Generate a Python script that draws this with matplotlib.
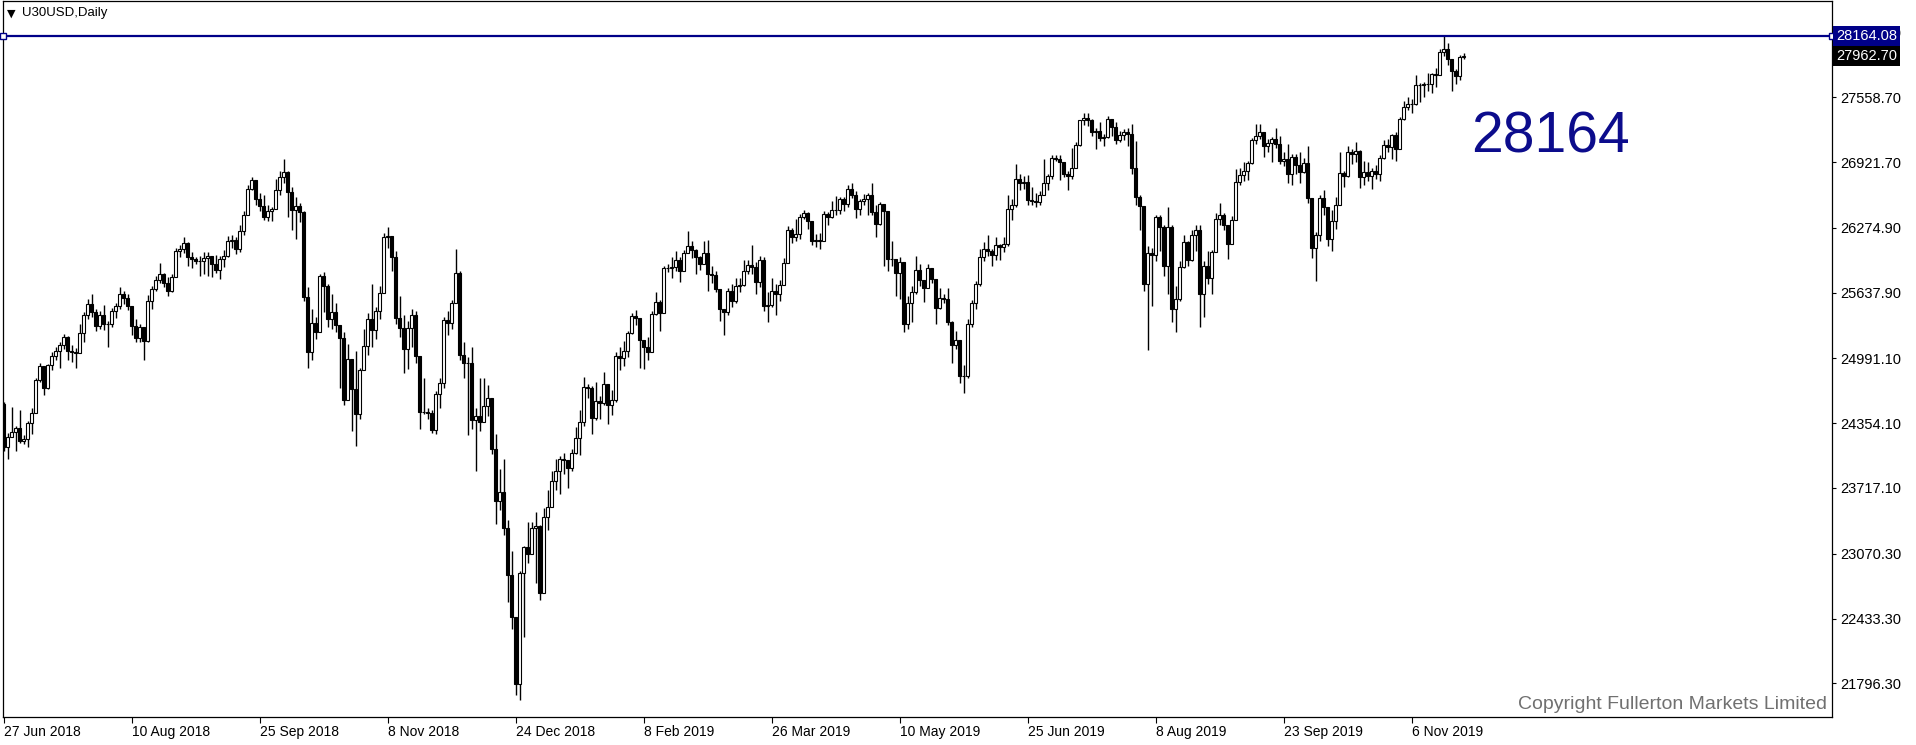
import numpy as np
import pandas as pd
import matplotlib
matplotlib.use("Agg")
import matplotlib.pyplot as plt
import matplotlib.transforms as mtransforms

plt.rcParams['font.family'] = ['Liberation Sans', 'DejaVu Sans']

symbol = "U30USD,Daily"
watermark = "Copyright Fullerton Markets Limited"
level_text = "28164"
level = 28164.08
last_price = 27962.70
first_open = 24540.0
holidays = ["2018-12-25", "2019-01-01", "2019-04-19"]
price_ticks = [21796.30, 22433.30, 23070.30, 23717.10, 24354.10, 24991.10,
               25637.90, 26274.90, 26921.70, 27558.70, 28195.70]

# daily closes (open = previous close, CFD trades round the clock)
closes = [
    # Jun 2018
    24117, 24216, 24271,
    # Jul
    24307, 24174, 24200, 24356, 24456, 24776, 24920, 24700, 24924, 25019, 25064,
    25120, 25199, 25064, 25058, 25044, 25241, 25414, 25527, 25451, 25306, 25415,
    # Aug
    25333, 25326, 25462, 25502, 25628, 25583, 25509, 25313, 25187, 25299, 25162,
    25558, 25669, 25758, 25822, 25733, 25656, 25790, 26049, 26064, 26124, 25986, 25964,
    # Sep
    25950, 25952, 25974, 25995, 25916, 25857, 25971, 25998, 26145, 26154, 26062,
    26246, 26405, 26657, 26743, 26562, 26492, 26385, 26439, 26458,
    # Oct
    26651, 26773, 26828, 26627, 26447, 26486, 26430, 25599, 25052, 25340, 25250,
    25798, 25706, 25379, 25444, 25317, 25191, 24583, 24984, 24689, 24443, 24875, 25116,
    # Nov
    25380, 25271, 25462, 25636, 26180, 26191, 25990, 25388, 25287, 25081, 25289,
    25413, 25018, 24466, 24464, 24450, 24286, 24640, 24749, 25366, 25339, 25538,
    # Dec
    25827, 25027, 24950, 24947, 24389, 24423, 24370, 24527, 24597, 24101, 23592,
    23676, 23324, 22860, 22445, 21792, 22878, 23139, 23063, 23327,
    # Jan 2019
    23346, 22686, 23433, 23531, 23787, 23879, 24001, 23996, 23910, 24065, 24207,
    24370, 24706, 24700, 24404, 24575, 24553, 24737, 24528, 24580, 25014, 24999,
    # Feb
    25064, 25239, 25411, 25390, 25169, 25106, 25053, 25426, 25543, 25439, 25883,
    25880, 25891, 25954, 25850, 26031, 26092, 26057, 25986, 25916,
    # Mar
    26026, 25820, 25807, 25673, 25473, 25450, 25650, 25555, 25702, 25709, 25849,
    25914, 25887, 25745, 25962, 25502, 25516, 25658, 25626, 25717, 25929,
    # Apr
    26258, 26180, 26219, 26385, 26425, 26341, 26150, 26157, 26143, 26412, 26384,
    26452, 26450, 26559, 26511, 26656, 26597, 26462, 26543, 26554, 26593,
    # May
    26430, 26308, 26505, 26438, 25965, 25968, 25829, 25942, 25325, 25532, 25648,
    25863, 25764, 25680, 25877, 25776, 25490, 25586, 25580, 25348, 25127, 25170, 24815,
    # Jun
    24820, 25332, 25540, 25720, 25984, 26062, 26049, 26005, 26107, 26090, 26112,
    26465, 26504, 26753, 26719, 26727, 26548, 26537, 26526, 26600,
    # Jul
    26718, 26787, 26966, 26950, 26922, 26806, 26784, 26860, 27088, 27332, 27359,
    27336, 27220, 27223, 27154, 27172, 27349, 27270, 27141, 27192, 27221, 27198, 26864,
    # Aug
    26583, 26485, 25718, 26030, 26008, 26378, 26287, 25897, 26280, 25479, 25579,
    25886, 26136, 25962, 26203, 26253, 25629, 25898, 25778, 26036, 26363, 26403,
    # Sep
    26300, 26118, 26356, 26728, 26797, 26836, 26910, 27137, 27182, 27220, 27076,
    27111, 27147, 27095, 26935, 26949, 26808, 26970, 26891, 26820, 26917,
    # Oct
    26573, 26079, 26201, 26573, 26478, 26164, 26347, 26497, 26817, 26787, 27024,
    27001, 27026, 26770, 26827, 26788, 26834, 26806, 26958, 27091, 27071, 27186, 27046,
    # Nov
    27347, 27462, 27493, 27492, 27675, 27681, 27691, 27691, 27784, 27782, 28005,
    28036, 27934, 27822, 27767, 27950, 27962.7,
]

highs = [
    24560, 24260, 24510,
    24330, 24480, 24240, 24380, 24500, 24800, 24950, 24780, 24940, 25050, 25100,
    25150, 25230, 25210, 25120, 25090, 25330, 25450, 25580, 25620, 25480, 25460,
    25520, 25360, 25490, 25540, 25690, 25650, 25620, 25500, 25380, 25330, 25290,
    25610, 25700, 25800, 25930, 25830, 25790, 25820, 26080, 26110, 26180, 26140, 26040,
    25990, 26000, 26040, 26040, 26000, 26010, 26000, 26060, 26190, 26200, 26180,
    26300, 26440, 26700, 26770, 26750, 26620, 26600, 26500, 26480,
    26760, 26830, 26950, 26830, 26680, 26580, 26520, 26440, 25690, 25480, 25400,
    25820, 25840, 25720, 25620, 25540, 25300, 25250, 25130, 24980, 25060, 24900, 25280,
    25440, 25720, 25500, 25700, 26220, 26280, 26180, 26050, 25600, 25420, 25360,
    25480, 25460, 25010, 24800, 24500, 24480, 24670, 24800, 25400, 25460, 25570,
    26070, 25850, 25150, 25000, 25100, 24500, 24800, 24800, 24730, 24520, 24250,
    23900, 24000, 23400, 23100, 22450, 22900, 23150, 23380, 23380,
    23480, 23350, 23520, 23700, 23880, 24000, 24030, 24060, 23980, 24100, 24320,
    24480, 24810, 24740, 24720, 24760, 24620, 24860, 24700, 24680, 25050, 25100,
    25160, 25260, 25440, 25470, 25390, 25150, 25200, 25460, 25640, 25570, 25900,
    25920, 25990, 26050, 25990, 26060, 26240, 26150, 26070, 26000,
    26150, 26160, 25900, 25850, 25660, 25460, 25680, 25720, 25780, 25780, 25960,
    25960, 26110, 25940, 26000, 25990, 25640, 25780, 25720, 25760, 25980,
    26290, 26270, 26360, 26410, 26450, 26430, 26330, 26210, 26220, 26440, 26430,
    26540, 26590, 26580, 26580, 26700, 26720, 26640, 26560, 26610, 26620,
    26720, 26500, 26530, 26450, 26400, 26150, 25960, 25990, 25800, 25600, 25700,
    26000, 25920, 25760, 25920, 25880, 25760, 25680, 25620, 25680, 25360, 25260, 25000,
    24930, 25380, 25570, 25750, 26070, 26140, 26200, 26070, 26180, 26120, 26180,
    26600, 26560, 26900, 26800, 26780, 26790, 26680, 26620, 26640,
    26950, 26800, 26990, 26990, 26990, 26910, 26830, 27060, 27120, 27340, 27400,
    27400, 27350, 27260, 27320, 27200, 27370, 27350, 27320, 27230, 27250, 27260, 27300,
    27130, 26600, 26320, 26100, 26080, 26400, 26400, 26300, 26480, 26300, 25700,
    25950, 26200, 26150, 26250, 26300, 26300, 25950, 26050, 26060, 26420, 26520,
    26420, 26300, 26390, 26850, 26860, 26920, 26930, 27160, 27300, 27300, 27190,
    27150, 27170, 27260, 27180, 27020, 27100, 27000, 27000, 27020, 26960,
    27080, 26560, 26230, 26600, 26650, 26480, 26450, 26580, 27020, 26830, 27080,
    27050, 27120, 27040, 26930, 26920, 26860, 26890, 26990, 27140, 27150, 27200, 27220,
    27360, 27520, 27560, 27540, 27780, 27700, 27710, 27800, 27800, 27850, 28030,
    28164, 28090, 27940, 27840, 27970, 27990,
]

lows = [
    24080, 24000, 24220,
    24080, 24160, 24150, 24120, 24250, 24450, 24760, 24630, 24690, 24880, 24980,
    24900, 25080, 24980, 24960, 24900, 25060, 25150, 25380, 25400, 25260, 25280,
    25270, 25100, 25300, 25390, 25480, 25530, 25470, 25220, 25150, 25150, 24980,
    25150, 25480, 25650, 25730, 25690, 25600, 25640, 25790, 25990, 26030, 25900, 25880,
    25920, 25800, 25820, 25800, 25790, 25830, 25770, 25890, 25990, 26080, 26020,
    26040, 26200, 26400, 26650, 26500, 26440, 26350, 26340, 26340,
    26460, 26600, 26720, 26380, 26250, 26170, 26330, 25560, 24900, 24980, 25180,
    25260, 25450, 25300, 25280, 25250, 24700, 24530, 24600, 24280, 24130, 24400, 24880,
    25020, 25100, 25180, 25380, 25650, 26080, 25850, 25330, 25200, 24850, 24890,
    25100, 24950, 24300, 24440, 24400, 24260, 24250, 24500, 24700, 25220, 25280,
    25600, 24980, 24800, 24240, 24300, 23880, 24280, 24450, 24420, 24050, 23360,
    23500, 23250, 22600, 22330, 21680, 21630, 22250, 22980, 23100,
    22780, 22620, 22700, 23300, 23550, 23700, 23660, 23850, 23720, 23880, 24050,
    24040, 24330, 24600, 24250, 24390, 24400, 24530, 24350, 24430, 24560, 24880,
    24920, 25000, 25230, 25320, 24900, 24890, 24980, 25080, 25420, 25260, 25450,
    25840, 25780, 25850, 25740, 25860, 26040, 25980, 25820, 25860,
    25920, 25650, 25730, 25640, 25360, 25220, 25420, 25500, 25540, 25640, 25700,
    25820, 25820, 25620, 25690, 25460, 25350, 25500, 25420, 25560, 25730,
    25950, 26130, 26150, 26170, 26360, 26260, 26110, 26090, 26070, 26150, 26300,
    26370, 26400, 26410, 26440, 26480, 26570, 26370, 26400, 26500, 26400,
    26400, 26180, 26300, 25900, 25850, 25900, 25600, 25580, 25250, 25280, 25350,
    25620, 25700, 25550, 25700, 25730, 25330, 25480, 25540, 25320, 24950, 25080, 24750,
    24650, 24800, 25300, 25480, 25700, 25950, 26000, 25900, 25960, 25960, 26040,
    26100, 26350, 26480, 26650, 26660, 26500, 26500, 26480, 26500,
    26650, 26650, 26760, 26930, 26750, 26770, 26650, 26760, 26870, 27080, 27290,
    27280, 27180, 27050, 27130, 27080, 27160, 27180, 27100, 27120, 27140, 27080, 26800,
    26500, 26250, 25650, 25070, 25510, 25950, 26050, 25800, 25620, 25350, 25250,
    25560, 25880, 25900, 25950, 26050, 25300, 25400, 25720, 25620, 26050, 26300,
    26250, 25970, 26120, 26380, 26700, 26740, 26750, 26900, 27100, 27150, 26970,
    27020, 26920, 27060, 26900, 26880, 26720, 26700, 26800, 26720, 26810,
    26520, 25980, 25750, 26150, 26400, 26100, 26050, 26260, 26500, 26680, 26770,
    26900, 26920, 26670, 26700, 26740, 26660, 26760, 26740, 26950, 27020, 26950, 26930,
    27050, 27340, 27430, 27400, 27480, 27510, 27560, 27620, 27600, 27660, 27790,
    27960, 27880, 27620, 27690, 27730, 27940,
]

dates = pd.bdate_range("2018-06-27", "2019-11-25").drop(pd.to_datetime(holidays))
n = min(len(dates), len(closes), len(highs), len(lows))
if not (len(dates) == len(closes) == len(highs) == len(lows)):
    print("length mismatch", len(dates), len(closes), len(highs), len(lows))
dates = dates[:n]
c = np.array(closes[:n], dtype=float)
h = np.array(highs[:n], dtype=float)
l = np.array(lows[:n], dtype=float)
o = np.concatenate([[first_open], c[:-1]])
x = np.arange(n)

fig = plt.figure(figsize=(19.16, 7.45), dpi=100)
ax = fig.add_axes([0.0014, 0.0376, 0.9548, 0.961])

# candles
up = c >= o
ax.vlines(x, np.minimum(l, np.minimum(o, c)), np.maximum(h, np.maximum(o, c)),
          color='black', lw=1.0, zorder=2)
ax.bar(x, np.abs(c - o), bottom=np.minimum(o, c), width=0.62,
       color=np.where(up, 'white', 'black'), edgecolor='black', lw=0.8, zorder=3)

ax.set_xlim(-0.225, 457.1)
ax.set_ylim(21465, 28505)

# price level line
navy = '#000088'
ax.plot([-0.225, 457.1], [level, level], color=navy, lw=1.6, marker='s', ms=4,
        mfc='white', mec=navy, mew=1.0, clip_on=False, zorder=4)

# axes styling
for s in ax.spines.values():
    s.set_linewidth(0.9)
    s.set_color('black')
ax.yaxis.tick_right()
ax.set_yticks(price_ticks)
ax.set_yticklabels([f"{v:.2f}" for v in price_ticks])
ax.tick_params(axis='y', direction='out', length=3, width=0.8, labelsize=10.5, pad=3)
tick_idx = x[::32]
ax.set_xticks(tick_idx)
ax.set_xticklabels([f"{d.day} {d.strftime('%b %Y')}" for d in dates[::32]])
ax.tick_params(axis='x', direction='out', length=4, width=0.8, labelsize=10, pad=2)
for t in ax.get_xticklabels():
    t.set_horizontalalignment('left')

# price boxes on the scale
tr = mtransforms.blended_transform_factory(ax.transAxes, ax.transData)
ax.text(1.0022, level, f"{level:.2f}", transform=tr, ha='left', va='center',
        fontsize=10.5, color='white', zorder=6, clip_on=False,
        bbox=dict(boxstyle='square,pad=0.2', fc=navy, ec='none'))
ax.text(1.0022, last_price, f"{last_price:.2f}", transform=tr, ha='left', va='center',
        fontsize=10.5, color='white', zorder=6, clip_on=False,
        bbox=dict(boxstyle='square,pad=0.2', fc='black', ec='none'))

# texts
ax.text(0.0022, 0.983, "\u25bc", transform=ax.transAxes, fontsize=8,
        ha='left', va='center', family='DejaVu Sans')
ax.text(0.0105, 0.983, symbol, transform=ax.transAxes, fontsize=9.5,
        ha='left', va='center')
ax.text(0.846, 0.809, level_text, transform=ax.transAxes, fontsize=41,
        color='#0c0c8c', ha='center', va='center')
ax.text(0.997, 0.006, watermark, transform=ax.transAxes, fontsize=14,
        color='#707070', ha='right', va='bottom')

fig.savefig("out.png", dpi=100, facecolor='white')
